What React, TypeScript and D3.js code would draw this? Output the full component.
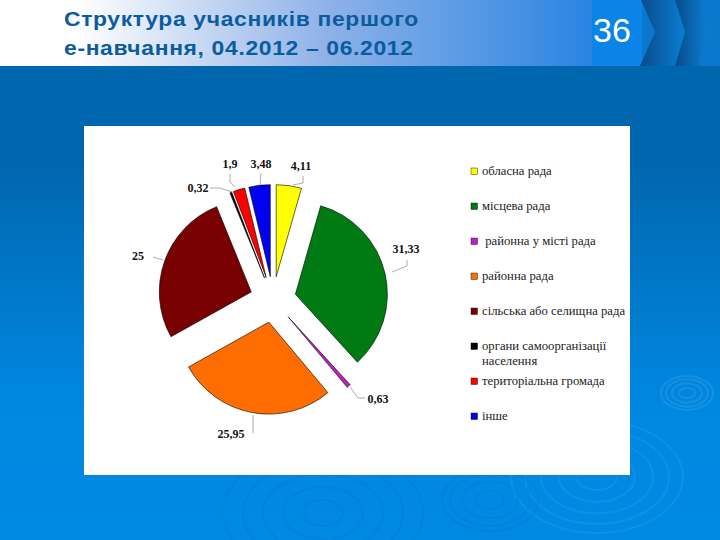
import React from "react";
import * as d3 from "d3";

const titleLines = ["Структура учасників першого", "е-навчання, 04.2012 – 06.2012"];
const pageNumber = "36";

const categories = [
  "обласна рада",
  "місцева рада",
  " районна у місті рада",
  "районна рада",
  "сільська або селищна рада",
  "органи самоорганізації населення",
  "територіальна громада",
  "інше",
];
const values = [4.11, 31.33, 0.63, 25.95, 25, 0.32, 1.9, 3.48];
const valueLabels = ["4,11", "31,33", "0,63", "25,95", "25", "0,32", "1,9", "3,48"];
const colors = ["#ffff00", "#007a12", "#c020c0", "#ff6c00", "#780000", "#000000", "#ff0000", "#0000f0"];

// label anchor + leader polyline for each slice, in page coordinates
const labelPos: [number, number][] = [
  [301, 170], [406, 253], [378, 403], [231, 438], [138, 260], [198, 192], [230, 168], [261, 168],
];
const leaders: [number, number][][] = [
  [[293, 185], [303, 183], [303, 176]],
  [[392, 272], [407, 266], [407, 260]],
  [[350, 387], [358, 398], [365, 398]],
  [[253, 415], [253, 433]],
  [[163, 260], [153, 257]],
  [[232, 192], [220, 188], [210, 188]],
  [[235, 187], [230, 182], [230, 174]],
  [[260, 185], [261, 173]],
];
const legendRows = [171, 206, 241, 276, 311, 346, 381, 416];

// water ripples in the slide background: cx, cy, radii, colour
const ripples: [number, number, number[], string][] = [
  [687, 393, [8, 15, 21, 26], "#5fb4ee"],
  [597, 477, [20, 38, 56, 72, 86], "#4aa8ec"],
  [490, 500, [14, 28, 40, 48], "#0b6fbe"],
  [323, 513, [20, 40, 60, 80, 100], "#0b6fbe"],
];

const cx = 273;
const cy = 299.5;
const radius = 92;
const explode = 23;

export default function App() {
  const pie = d3.pie<number>().sort(null).value((d) => d);
  const arcs = pie(values);
  const arc = d3.arc<d3.PieArcDatum<number>>().innerRadius(0).outerRadius(radius);
  const leaderLine = d3.line();

  return (
    <svg
      width={720}
      height={540}
      style={{ position: "absolute", left: 0, top: 0, display: "block" }}
    >
      <defs>
        <linearGradient id="bg" x1="0" y1="0" x2="0" y2="1">
          <stop offset="0" stopColor="#0066ae" />
          <stop offset="0.3" stopColor="#0066ae" />
          <stop offset="0.72" stopColor="#0086df" />
          <stop offset="1" stopColor="#008ae4" />
        </linearGradient>
        <linearGradient id="head" x1="0" y1="0" x2="1" y2="0">
          <stop offset="0" stopColor="#ffffff" />
          <stop offset="0.13" stopColor="#ffffff" />
          <stop offset="0.55" stopColor="#8fb2e8" />
          <stop offset="1" stopColor="#2a84e2" />
        </linearGradient>
        <linearGradient id="chev" x1="0" y1="0" x2="1" y2="0">
          <stop offset="0" stopColor="#084a8c" />
          <stop offset="1" stopColor="#0a7fd2" />
        </linearGradient>
      </defs>

      <rect width={720} height={540} fill="url(#bg)" />
      {ripples.map(([x, y, rs, c], i) => (
        <g key={i} fill="none">
          {rs.map((r) => (
            <ellipse key={r} cx={x} cy={y} rx={r} ry={r * 0.65} stroke={c} strokeOpacity={0.22} strokeWidth={2} />
          ))}
        </g>
      ))}

      {/* header band */}
      <rect width={592} height={66} fill="url(#head)" />
      <rect x={592} width={128} height={66} fill="#0a78cc" />
      <rect x={592} width={50} height={66} fill="#0a84e6" />
      <path d="M641 0 L675 0 L685 32 L675 66 L640 66 L655 32 Z" fill="url(#chev)" />
      <path d="M675 0 L700 0 L708 32 L698 66 L675 66 L685 32 Z" fill="url(#chev)" />
      {titleLines.map((t, i) => (
        <text
          key={t}
          transform={`translate(64,${26 + i * 29}) scale(1.09,1)`}
          fontFamily="'Liberation Sans', Arial, sans-serif"
          fontWeight="bold"
          fontSize={21}
          letterSpacing={0.6}
          fill="#0a5c9e"
        >
          {t}
        </text>
      ))}
      <text x={612} y={42} textAnchor="middle" fontFamily="'Liberation Sans', Arial, sans-serif" fontSize={34} fill="#fff">
        {pageNumber}
      </text>

      {/* chart panel */}
      <rect x={84} y={126} width={546} height={349} fill="#fff" />
      <g transform={`translate(${cx},${cy})`}>
        {arcs.map((d, i) => {
          const mid = (d.startAngle + d.endAngle) / 2;
          const dx = Math.sin(mid) * explode;
          const dy = -Math.cos(mid) * explode;
          return (
            <path
              key={i}
              d={arc(d) ?? ""}
              transform={`translate(${dx},${dy})`}
              fill={colors[i]}
              stroke="#000"
              strokeWidth={0.6}
            />
          );
        })}
      </g>

      {leaders.map((pts, i) => (
        <path key={i} d={leaderLine(pts) ?? ""} fill="none" stroke="#888" strokeWidth={0.7} />
      ))}
      {valueLabels.map((t, i) => (
        <text
          key={t}
          x={labelPos[i][0]}
          y={labelPos[i][1]}
          textAnchor="middle"
          fontFamily="'Liberation Serif', serif"
          fontWeight="bold"
          fontSize={12}
          fill="#111"
        >
          {t}
        </text>
      ))}

      {/* legend */}
      {categories.map((c, i) => {
        const y = legendRows[i];
        const wrapped = c.startsWith("органи") ? ["органи самоорганізації", "населення"] : [c];
        return (
          <g key={c}>
            <rect x={471} y={y - 3} width={6.5} height={6.5} fill={colors[i]} stroke="#000" strokeWidth={0.4} />
            {wrapped.map((line, j) => (
              <text
                key={line}
                x={482}
                y={y + 3.5 + j * 15}
                xmlSpace="preserve"
                fontFamily="'Liberation Serif', serif"
                fontSize={12.7}
                fill="#222"
              >
                {line}
              </text>
            ))}
          </g>
        );
      })}
    </svg>
  );
}
